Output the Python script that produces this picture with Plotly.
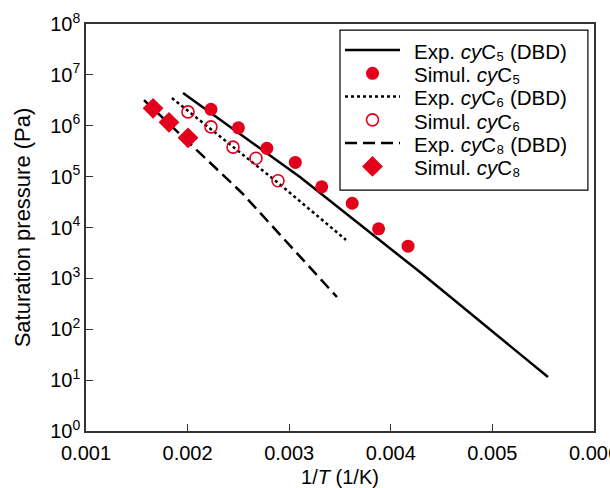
import plotly.graph_objects as go

exp_c5_x = [0.001955, 0.003106, 0.004287, 0.005547]
exp_c5_p = [4.4e6, 9.8e4, 1.33e3, 11.5]

exp_c6_x = [0.001846, 0.002447, 0.00288, 0.003559]
exp_c6_p = [3.5e6, 3.82e5, 7.84e4, 5.7e3]

exp_c8_x = [0.001571, 0.002535, 0.00347]
exp_c8_p = [3.2e6, 4.77e4, 430]

# Simulation points
sim_c5_x = [0.00223, 0.00250, 0.00278, 0.00306, 0.00332, 0.00362, 0.00388, 0.00417]
sim_c5_p = [2.1e6, 9.1e5, 3.6e5, 1.9e5, 6.3e4, 3.0e4, 9.4e3, 4.3e3]

sim_c6_x = [0.002004, 0.00223, 0.002447, 0.002673, 0.00289]
sim_c6_p = [1.87e6, 9.5e5, 3.8e5, 2.3e5, 8.3e4]

sim_c8_x = [0.00166, 0.001817, 0.002004]
sim_c8_p = [2.2e6, 1.17e6, 5.8e5]

# Axis ticks
x_tickvals = [0.001, 0.002, 0.003, 0.004, 0.005, 0.006]
x_ticktext = ["0.001", "0.002", "0.003", "0.004", "0.005", "0.006"]
y_tickvals = [1, 10, 1e2, 1e3, 1e4, 1e5, 1e6, 1e7, 1e8]
y_ticktext = ["10<sup>0</sup>", "10<sup>1</sup>", "10<sup>2</sup>", "10<sup>3</sup>",
              "10<sup>4</sup>", "10<sup>5</sup>", "10<sup>6</sup>", "10<sup>7</sup>",
              "10<sup>8</sup>"]

names = [
    "Exp. <i>cy</i>C₅ (DBD)",
    "Simul. <i>cy</i>C₅",
    "Exp. <i>cy</i>C₆ (DBD)",
    "Simul. <i>cy</i>C₆",
    "Exp. <i>cy</i>C₈ (DBD)",
    "Simul. <i>cy</i>C₈",
]

RED = "#e2001a"
FONT = "Liberation Sans, Arial, sans-serif"

fig = go.Figure()
fig.add_trace(go.Scatter(x=exp_c5_x, y=exp_c5_p, mode="lines", name="",
                         line=dict(color="black", width=2.5)))
fig.add_trace(go.Scatter(x=sim_c5_x, y=sim_c5_p, mode="markers", name="",
                         marker=dict(symbol="circle", size=13, color=RED, line=dict(width=0))))
fig.add_trace(go.Scatter(x=exp_c6_x, y=exp_c6_p, mode="lines", name="",
                         line=dict(color="black", width=2.5, dash="dot")))
fig.add_trace(go.Scatter(x=sim_c6_x, y=sim_c6_p, mode="markers", name="",
                         marker=dict(symbol="circle-open", size=12, color=RED, line=dict(width=1.6, color=RED))))
fig.add_trace(go.Scatter(x=exp_c8_x, y=exp_c8_p, mode="lines", name="",
                         line=dict(color="black", width=2.5, dash="12px,6px")))
fig.add_trace(go.Scatter(x=sim_c8_x, y=sim_c8_p, mode="markers", name="",
                         marker=dict(symbol="diamond", size=16, color=RED, line=dict(width=0))))

axis_common = dict(
    showline=True, linecolor="#333333", linewidth=1.5, mirror=True,
    ticks="inside", ticklen=7, tickwidth=1.2, tickcolor="#333333",
    showgrid=False, zeroline=False,
    tickfont=dict(family=FONT, size=20, color="black"),
    automargin=False, ticklabeloverflow="allow",
)

fig.update_xaxes(
    range=[0.001, 0.006], tickmode="array", tickvals=x_tickvals, ticktext=x_ticktext,
    ticklabelstandoff=3,
    title=dict(text="1/<i>T</i> (1/K)", font=dict(family=FONT, size=20, color="black"), standoff=10),
    **axis_common,
)
fig.update_yaxes(
    type="log", range=[0, 8], tickmode="array", tickvals=y_tickvals, ticktext=y_ticktext,
    title=dict(text="Saturation pressure (Pa)", font=dict(family=FONT, size=22, color="black"), standoff=14),
    **axis_common,
)

# Legend: native symbols (spacing controlled by font size), labels as text, framed box
legend_label_y = [0.933, 0.876, 0.819, 0.761, 0.704, 0.647]
for label, yy in zip(names, legend_label_y):
    fig.add_annotation(x=0.642, y=yy, xref="paper", yref="paper", xanchor="left", yanchor="middle",
                       text=label, showarrow=False, font=dict(family=FONT, size=20.5, color="black"))
fig.add_shape(type="rect", xref="paper", yref="paper", x0=0.5, x1=0.988, y0=0.592, y1=0.985,
              line=dict(color="black", width=1.2), fillcolor="rgba(0,0,0,0)", layer="above")

fig.update_layout(
    width=610, height=488,
    margin=dict(l=86, r=16, t=24, b=57),
    paper_bgcolor="white", plot_bgcolor="white",
    font=dict(family=FONT, size=20, color="black"),
    legend=dict(
        x=0.5, y=0.977, xanchor="left", yanchor="top",
        bgcolor="rgba(0,0,0,0)", borderwidth=0,
        font=dict(family=FONT, size=15.6, color="black"),
        tracegroupgap=0, itemwidth=55,
    ),
    showlegend=True,
)

fig.write_html("out.html", config={"displayModeBar": False},
               post_script="document.body.style.margin='0';")
